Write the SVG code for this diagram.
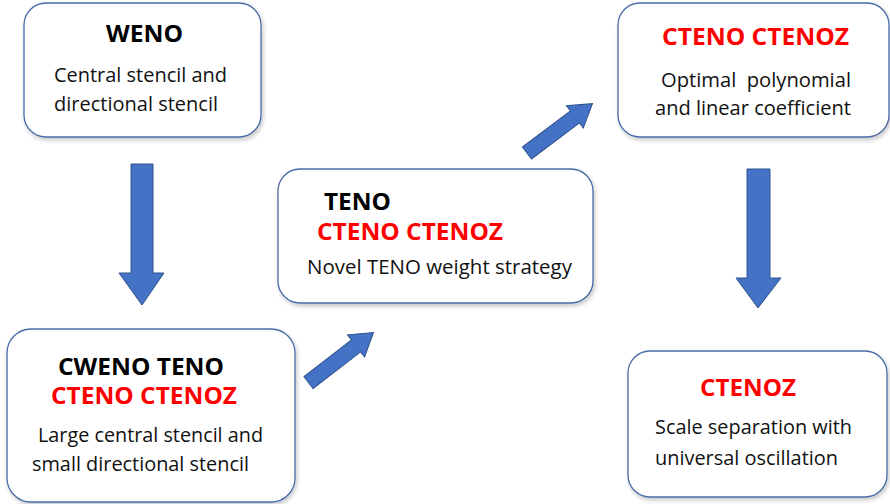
<svg xmlns="http://www.w3.org/2000/svg" width="890" height="504" viewBox="0 0 890 504">
<defs>
<filter id="sh" x="-10%" y="-10%" width="120%" height="125%">
<feDropShadow dx="1.5" dy="2.5" stdDeviation="2" flood-color="#000" flood-opacity="0.22"/>
</filter>
<path id="diag" d="M0,-7.5 L60,-7.5 L60,-14 L82,0 L60,14 L60,7.5 L0,7.5 Z"/>
</defs>
<style>
.box{fill:#fff;stroke:#4A6BA8;stroke-width:1.3;filter:url(#sh)}
.arr{fill:#4472C4;stroke:#2F528F;stroke-width:1}
.t{font-family:"Open Sans","Noto Sans","DejaVu Sans",sans-serif;font-weight:bold;font-size:24px;fill:#000}
.r{font-family:"Open Sans","Noto Sans","DejaVu Sans",sans-serif;font-weight:bold;font-size:24px;fill:#FF0000}
.b{font-family:"Open Sans","Noto Sans","DejaVu Sans",sans-serif;font-size:20.5px;fill:#111}
</style>
<rect width="890" height="504" fill="#fff"/>
<g id="connectors">
<path class="arr" d="M131,164 L153,164 L153,273 L164,273 L142,305 L119,273 L131,273 Z"/>
<path class="arr" d="M747,169 L770,169 L770,278 L781,278 L758,308 L736,278 L747,278 Z"/>
<use href="#diag" class="arr" transform="translate(308.5,382.5) rotate(-37.6)"/>
<use href="#diag" class="arr" transform="translate(527,153) rotate(-37)"/>
</g>
<g id="weno">
<rect class="box" x="24" y="3" width="237" height="134" rx="22"/>
<text class="t" x="106" y="42" textLength="77" lengthAdjust="spacingAndGlyphs">WENO</text>
<text class="b" x="54" y="82" textLength="173" lengthAdjust="spacingAndGlyphs">Central stencil and</text>
<text class="b" x="54" y="111" textLength="164" lengthAdjust="spacingAndGlyphs">directional stencil</text>
</g>
<g id="teno">
<rect class="box" x="278" y="169" width="315" height="134" rx="22"/>
<text class="t" x="324" y="210" textLength="67" lengthAdjust="spacingAndGlyphs">TENO</text>
<text class="r" x="317" y="240" textLength="186" lengthAdjust="spacingAndGlyphs">CTENO CTENOZ</text>
<text class="b" x="307" y="274" textLength="265" lengthAdjust="spacingAndGlyphs">Novel TENO weight strategy</text>
</g>
<g id="cteno">
<rect class="box" x="618" y="3" width="271" height="134" rx="22"/>
<text class="r" x="662" y="45" textLength="187" lengthAdjust="spacingAndGlyphs">CTENO CTENOZ</text>
<text class="b" x="661" y="87" textLength="190" lengthAdjust="spacingAndGlyphs">Optimal&#160; polynomial</text>
<text class="b" x="655" y="115" textLength="196" lengthAdjust="spacingAndGlyphs">and linear coefficient</text>
</g>
<g id="cweno">
<rect class="box" x="7" y="329" width="288" height="173" rx="24"/>
<text class="t" x="58" y="375" textLength="166" lengthAdjust="spacingAndGlyphs">CWENO TENO</text>
<text class="r" x="51" y="404" textLength="186" lengthAdjust="spacingAndGlyphs">CTENO CTENOZ</text>
<text class="b" x="38" y="442" textLength="225" lengthAdjust="spacingAndGlyphs">Large central stencil and</text>
<text class="b" x="32" y="471" textLength="217" lengthAdjust="spacingAndGlyphs">small directional stencil</text>
</g>
<g id="ctenoz">
<rect class="box" x="628" y="351" width="259" height="146" rx="22"/>
<text class="r" x="700" y="396" textLength="96" lengthAdjust="spacingAndGlyphs">CTENOZ</text>
<text class="b" x="655" y="434" textLength="197" lengthAdjust="spacingAndGlyphs">Scale separation with</text>
<text class="b" x="655" y="465" textLength="183" lengthAdjust="spacingAndGlyphs">universal oscillation</text>
</g>
</svg>
